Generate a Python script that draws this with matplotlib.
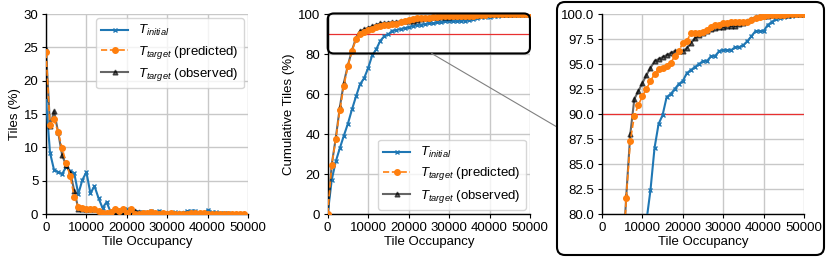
import numpy as np
import matplotlib
matplotlib.use("Agg")
from matplotlib import pyplot as plt
from matplotlib.patches import FancyBboxPatch, ConnectionPatch
from matplotlib.transforms import IdentityTransform

plt.rcParams['font.family'] = ['Liberation Sans', 'DejaVu Sans']
plt.rcParams['mathtext.fontset'] = 'custom'
plt.rcParams['mathtext.it'] = 'Liberation Sans:italic'
plt.rcParams['mathtext.rm'] = 'Liberation Sans'

# tile occupancy bins (step 1000)
occupancy = np.arange(0, 50001, 1000)

# cumulative share of tiles (%) at each occupancy value
cum_initial = [0, 17.1, 26.3, 32.9, 39.2, 45.2, 52.3, 58.8, 64.9, 67.9, 73.0,
               79.3, 82.4, 86.6, 89.0, 89.9, 91.7, 92.0, 92.5, 93.0, 93.3,
               94.1, 94.4, 94.7, 95.0, 95.3, 95.3, 95.8, 95.8, 96.3, 96.4,
               96.4, 96.4, 96.7, 96.7, 96.9, 97.3, 97.8, 98.3, 98.3, 98.3,
               98.9, 99.2, 99.5, 99.6, 99.7, 99.8, 99.85, 99.9, 99.95, 100.0]
cum_predicted = [0, 24.3, 37.6, 51.8, 64.1, 74.0, 81.6, 87.3, 89.8, 90.9, 91.8,
                 92.5, 93.3, 94.0, 94.5, 94.6, 94.8, 95.1, 95.8, 96.3, 97.1,
                 97.3, 98.1, 98.1, 98.1, 98.2, 98.4, 98.7, 98.9, 98.9, 99.1,
                 99.1, 99.2, 99.2, 99.2, 99.2, 99.2, 99.4, 99.6, 99.7, 99.85,
                 99.88, 99.9, 99.92, 99.94, 99.95, 99.96, 99.97, 99.98, 99.99, 100.0]
cum_observed = [0, 24.8, 38.0, 53.4, 65.7, 74.5, 81.8, 88.0, 91.5, 92.3, 93.1,
                93.9, 94.6, 95.3, 95.5, 95.7, 95.9, 96.1, 96.3, 96.3, 96.3,
                96.6, 97.1, 97.6, 97.9, 98.1, 98.3, 98.5, 98.6, 98.7, 98.7,
                98.8, 98.8, 98.8, 99.0, 99.1, 99.3, 99.5, 99.7, 99.8, 99.8,
                99.85, 99.9, 99.9, 99.9, 99.95, 99.95, 100.0, 100.0, 100.0, 100.0]

labels = [r'$T_{initial}$', r'$T_{target}$ (predicted)', r'$T_{target}$ (observed)']
series = [cum_initial, cum_predicted, cum_observed]
styles = [
    dict(color='#1f77b4', marker='x', ms=3.5, mew=1.0, lw=1.5, zorder=3),
    dict(color='#ff7f0e', marker='o', ms=4, ls='--', lw=1.2, zorder=4),
    dict(color='black', marker='^', ms=3.5, lw=1.5, alpha=0.6, zorder=3),
]

fs = 9.5
fig = plt.figure(figsize=(8.3, 2.59), dpi=100)
ax1 = fig.add_axes([0.0554, 0.1737, 0.2434, 0.772])
ax2 = fig.add_axes([0.3948, 0.1737, 0.2437, 0.772])
ax3 = fig.add_axes([0.7253, 0.1737, 0.2434, 0.772])

for ax in (ax1, ax2, ax3):
    ax.grid(True, color='#c8c8c8', lw=1.0, zorder=0)
    ax.set_axisbelow(True)
    for s in ('top', 'right'):
        ax.spines[s].set_visible(False)
    for s in ('left', 'bottom'):
        ax.spines[s].set_color('black')
        ax.spines[s].set_linewidth(1.0)
    ax.tick_params(labelsize=fs, length=3, width=0.8, pad=2.5)
    ax.set_xlim(0, 50000)
    ax.set_xticks(range(0, 50001, 10000))
    ax.set_xlabel('Tile Occupancy', fontsize=fs, labelpad=2)

# per-bin distribution
for cum, lab, st in zip(series, labels, styles):
    ax1.plot(occupancy[:-1], np.diff(cum), label=lab, **st)
ax1.set_ylim(0, 30)
ax1.set_yticks(range(0, 31, 5))
ax1.set_ylabel('Tiles (%)', fontsize=fs, labelpad=2)
ax1.legend(loc='upper right', fontsize=9.5, handlelength=2.0, borderaxespad=0.3,
           labelspacing=0.4)

# cumulative
for ax in (ax2, ax3):
    for cum, lab, st in zip(series, labels, styles):
        ax.plot(occupancy, cum, label=lab, **st)
    ax.axhline(90, color='#e83030', lw=0.9, zorder=2)
ax2.set_ylim(0, 100)
ax2.set_yticks(range(0, 101, 20))
ax2.set_ylabel('Cumulative Tiles (%)', fontsize=fs, labelpad=2)
ax2.legend(loc='lower right', fontsize=9.5, handlelength=2.0, borderaxespad=0.3,
           labelspacing=0.4)

ax3.set_ylim(80, 100)
ax3.set_yticks(np.arange(80, 100.1, 2.5))
ax3.yaxis.set_major_formatter(matplotlib.ticker.FormatStrFormatter('%.1f'))

# zoom marker on the cumulative panel
zoom_box = FancyBboxPatch((0.0, 0.803), 1.0, 0.2, transform=ax2.transAxes,
                          boxstyle='round,pad=0,rounding_size=0.03',
                          fill=False, ec='black', lw=1.5, clip_on=False, zorder=6)
ax2.add_patch(zoom_box)

outer = FancyBboxPatch((557, 4), 267, 253, transform=IdentityTransform(),
                       boxstyle='round,pad=0,rounding_size=8',
                       fill=False, ec='black', lw=1.5)
fig.patches.append(outer)

con = ConnectionPatch(xyA=(25700, 80.3), coordsA=ax2.transData,
                      xyB=(557, 132), coordsB='figure pixels',
                      color='gray', lw=0.8)
fig.add_artist(con)

fig.savefig('out.png', dpi=100)
